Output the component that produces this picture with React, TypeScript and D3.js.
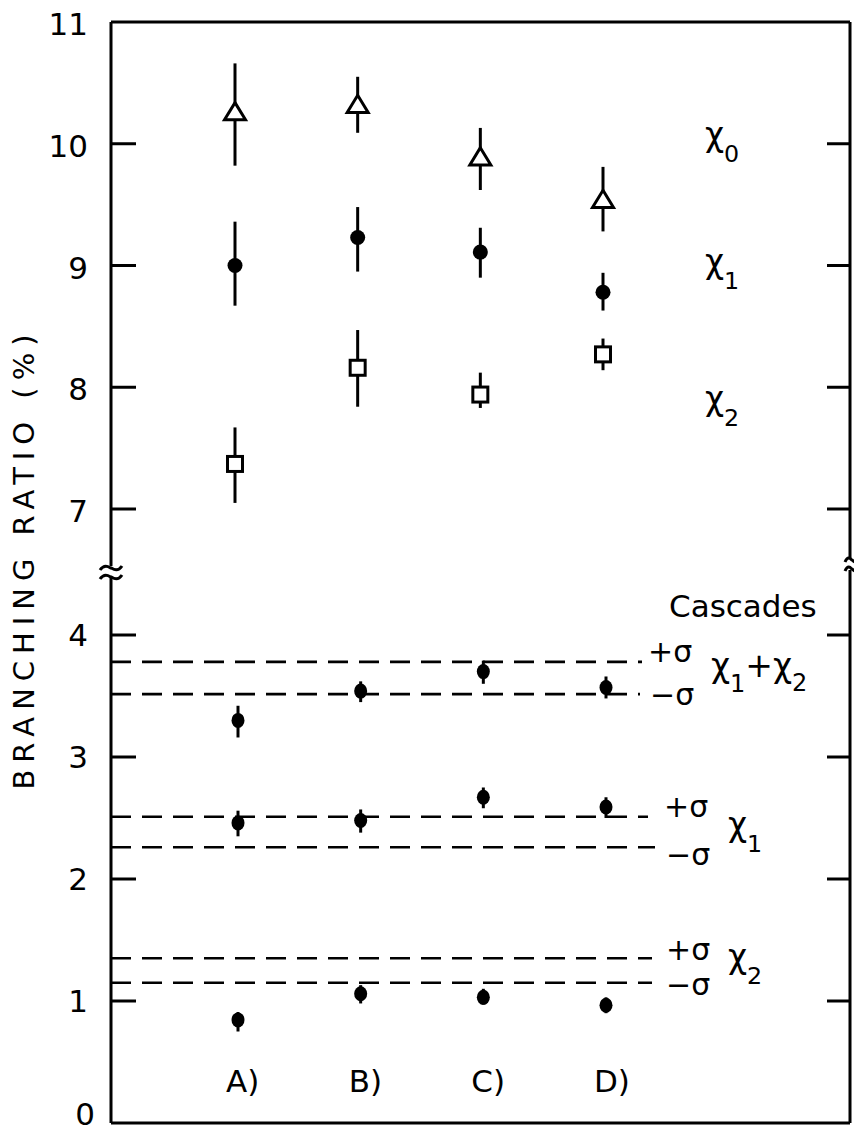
import React from "react";
import * as d3 from "d3";

// ---- data ----
const categories = ["A)", "B)", "C)", "D)"];

// upper panel (branching ratio %, per gamma line)
const chi0 = [10.26, 10.32, 9.89, 9.54];
const chi0Lo = [9.82, 10.09, 9.62, 9.28];
const chi0Hi = [10.66, 10.55, 10.13, 9.81];

const chi1 = [9.0, 9.23, 9.11, 8.78];
const chi1Lo = [8.67, 8.95, 8.9, 8.63];
const chi1Hi = [9.36, 9.48, 9.31, 8.94];

const chi2 = [7.37, 8.16, 7.94, 8.27];
const chi2Lo = [7.05, 7.84, 7.83, 8.14];
const chi2Hi = [7.67, 8.47, 8.12, 8.4];

// lower panel (cascades)
const casc12 = [3.3, 3.54, 3.7, 3.57];
const casc12Lo = [3.16, 3.45, 3.6, 3.48];
const casc12Hi = [3.42, 3.62, 3.79, 3.66];

const casc1 = [2.46, 2.48, 2.67, 2.59];
const casc1Lo = [2.35, 2.38, 2.58, 2.5];
const casc1Hi = [2.56, 2.57, 2.75, 2.67];

const casc2 = [0.845, 1.06, 1.03, 0.965];
const casc2Lo = [0.75, 0.98, 0.97, 0.9];
const casc2Hi = [0.91, 1.13, 1.1, 1.03];

const sigmaPlus = [3.78, 2.51, 1.35];
const sigmaMinus = [3.515, 2.26, 1.15];

const upperTicks = [7, 8, 9, 10, 11];
const lowerTicks = [0, 1, 2, 3, 4];

// ---- layout ----
const L = 111, R = 850, T = 22, B = 1123;
const FONT = "'DejaVu Sans', sans-serif";

const yUp = d3.scaleLinear().domain([6.5, 11]).range([22 + 4.5 * 121.75, T]);
const yLo = d3.scaleLinear().domain([0, 4.5]).range([B, B - 4.5 * 122]);
const x = d3.scalePoint<string>().domain(categories).range([235, 603]);

const breakY = 572;

function ErrPoint({ cx, cy, y0, y1, shape, size }: any) {
  let marker: any;
  if (shape === "circle") {
    marker = <circle cx={cx} cy={cy} r={size} fill="#000" />;
  } else if (shape === "square") {
    marker = (
      <rect x={cx - size} y={cy - size} width={size * 2} height={size * 2} fill="#fff" stroke="#000" strokeWidth={3} />
    );
  } else {
    const w = size, h = size * 0.82;
    const p = d3.path();
    p.moveTo(cx, cy - h * 0.55);
    p.lineTo(cx + w / 2, cy + h * 0.45);
    p.lineTo(cx - w / 2, cy + h * 0.45);
    p.closePath();
    marker = <path d={p.toString()} fill="#fff" stroke="#000" strokeWidth={3} strokeLinejoin="miter" />;
  }
  return (
    <g>
      <line x1={cx} x2={cx} y1={y0} y2={y1} stroke="#000" strokeWidth={3} />
      {marker}
    </g>
  );
}

function Chi({ x0, y0, sub, size = 33, subDy = 16 }: any) {
  return (
    <text x={x0} y={y0} fontFamily={FONT} fontSize={size} fill="#000">
      χ
      <tspan dy={subDy} fontSize={size * 0.72}>{sub}</tspan>
    </text>
  );
}

function Breaker({ cx, cy, w }: any) {
  const h = w / 2;
  const wave = (dy: number) =>
    `M${cx - h},${cy + dy + 2} C${cx - h / 2},${cy + dy - 6} ${cx},${cy + dy + 1} ${cx},${cy + dy} S${cx + h / 2},${cy + dy + 6} ${cx + h},${cy + dy - 2}`;
  return (
    <g>
      <rect x={cx - h} y={cy - 6} width={w} height={12} fill="#fff" />
      <path d={wave(-4)} fill="none" stroke="#000" strokeWidth={3} />
      <path d={wave(5)} fill="none" stroke="#000" strokeWidth={3} />
    </g>
  );
}

export default function App() {
  const upperSeries = [
    { v: chi0, lo: chi0Lo, hi: chi0Hi, shape: "triangle", size: 21 },
    { v: chi1, lo: chi1Lo, hi: chi1Hi, shape: "circle", size: 7.5 },
    { v: chi2, lo: chi2Lo, hi: chi2Hi, shape: "square", size: 7.5 },
  ];
  const lowerSeries = [
    { v: casc12, lo: casc12Lo, hi: casc12Hi },
    { v: casc1, lo: casc1Lo, hi: casc1Hi },
    { v: casc2, lo: casc2Lo, hi: casc2Hi },
  ];
  const dashEndsPlus = [642, 648, 652];
  const dashEndsMinus = [640, 655, 652];

  return (
    <svg width={854} height={1133} style={{ position: "absolute", left: 0, top: 0, background: "#fff" }}>
      <rect x={0} y={0} width={854} height={1133} fill="#fff" />

      {/* dashed sigma lines */}
      {sigmaPlus.map((v, i) => (
        <line key={"p" + i} x1={L} x2={dashEndsPlus[i]} y1={yLo(v)} y2={yLo(v)} stroke="#000" strokeWidth={2.6} strokeDasharray="20,11" />
      ))}
      {sigmaMinus.map((v, i) => (
        <line key={"m" + i} x1={L} x2={dashEndsMinus[i]} y1={yLo(v)} y2={yLo(v)} stroke="#000" strokeWidth={2.6} strokeDasharray="20,11" />
      ))}

      {/* frame */}
      <line x1={L} x2={R} y1={T} y2={T} stroke="#000" strokeWidth={3} />
      <line x1={L} x2={R} y1={B} y2={B} stroke="#000" strokeWidth={3} />
      <line x1={L} x2={L} y1={T} y2={B} stroke="#000" strokeWidth={3} />
      <line x1={R} x2={R} y1={T} y2={B} stroke="#000" strokeWidth={3} />

      {/* ticks */}
      {upperTicks.filter((t) => t !== 11).map((t) => (
        <g key={"ut" + t}>
          <line x1={L} x2={L + 25} y1={yUp(t)} y2={yUp(t)} stroke="#000" strokeWidth={3} />
          <line x1={R} x2={R - 23} y1={yUp(t)} y2={yUp(t)} stroke="#000" strokeWidth={3} />
        </g>
      ))}
      {lowerTicks.filter((t) => t !== 0).map((t) => (
        <g key={"lt" + t}>
          <line x1={L} x2={L + 25} y1={yLo(t)} y2={yLo(t)} stroke="#000" strokeWidth={3} />
          <line x1={R} x2={R - 23} y1={yLo(t)} y2={yLo(t)} stroke="#000" strokeWidth={3} />
        </g>
      ))}
      {upperTicks.map((t) => (
        <text key={"ul" + t} x={88} y={yUp(t) + 2} dy="0.36em" textAnchor="end" fontFamily={FONT} fontSize={31}>
          {t}
        </text>
      ))}
      {lowerTicks.map((t) => (
        <text key={"ll" + t} x={t === 0 ? 95 : 88} y={t === 0 ? yLo(t) - 9 : yLo(t)} dy="0.36em" textAnchor="end" fontFamily={FONT} fontSize={31}>
          {t}
        </text>
      ))}

      {/* axis breaks */}
      <Breaker cx={L} cy={breakY} w={22} />
      <Breaker cx={R + 2} cy={breakY - 8} w={14} />

      {/* y label */}
      <text
        transform={`translate(34,562) rotate(-90)`}
        textAnchor="middle"
        fontFamily={FONT}
        fontSize={29}
        textLength={455}
        lengthAdjust="spacing"
      >
        BRANCHING RATIO  (%)
      </text>

      {/* upper data */}
      {upperSeries.map((s, si) =>
        categories.map((c, i) => (
          <ErrPoint key={si + "-" + i} cx={x(c)} cy={yUp(s.v[i])} y0={yUp(s.lo[i])} y1={yUp(s.hi[i])} shape={s.shape} size={s.size} />
        ))
      )}

      {/* lower data */}
      {lowerSeries.map((s, si) =>
        categories.map((c, i) => (
          <g key={"l" + si + "-" + i}>
            <line x1={x(c)! + 3} x2={x(c)! + 3} y1={yLo(s.lo[i])} y2={yLo(s.hi[i])} stroke="#000" strokeWidth={3} />
            <ellipse cx={x(c)! + 3} cy={yLo(s.v[i])} rx={6.5} ry={7.5} fill="#000" />
          </g>
        ))
      )}

      {/* category labels */}
      {categories.map((c) => (
        <text key={"c" + c} x={x(c)! - 9} y={1092} fontFamily={FONT} fontSize={31}>
          {c}
        </text>
      ))}

      {/* right labels, upper */}
      <Chi x0={705} y0={146} sub="0" />
      <Chi x0={705} y0={273} sub="1" />
      <Chi x0={705} y0={410} sub="2" />

      {/* cascades block */}
      <text x={669} y={617} fontFamily={FONT} fontSize={31}>Cascades</text>

      <text x={648} y={662} fontFamily={FONT} fontSize={30}>+σ</text>
      <text x={650} y={705} fontFamily={FONT} fontSize={30}>−σ</text>
      <text x={711} y={677} fontFamily={FONT} fontSize={33}>
        χ<tspan dy={15} fontSize={24}>1</tspan>
        <tspan dy={-15}>+χ</tspan>
        <tspan dy={14} fontSize={24}>2</tspan>
      </text>

      <text x={664} y={817} fontFamily={FONT} fontSize={30}>+σ</text>
      <text x={666} y={865} fontFamily={FONT} fontSize={30}>−σ</text>
      <Chi x0={728} y0={836} sub="1" />

      <text x={666} y={960} fontFamily={FONT} fontSize={30}>+σ</text>
      <text x={666} y={995} fontFamily={FONT} fontSize={30}>−σ</text>
      <Chi x0={728} y0={968} sub="2" />
    </svg>
  );
}
